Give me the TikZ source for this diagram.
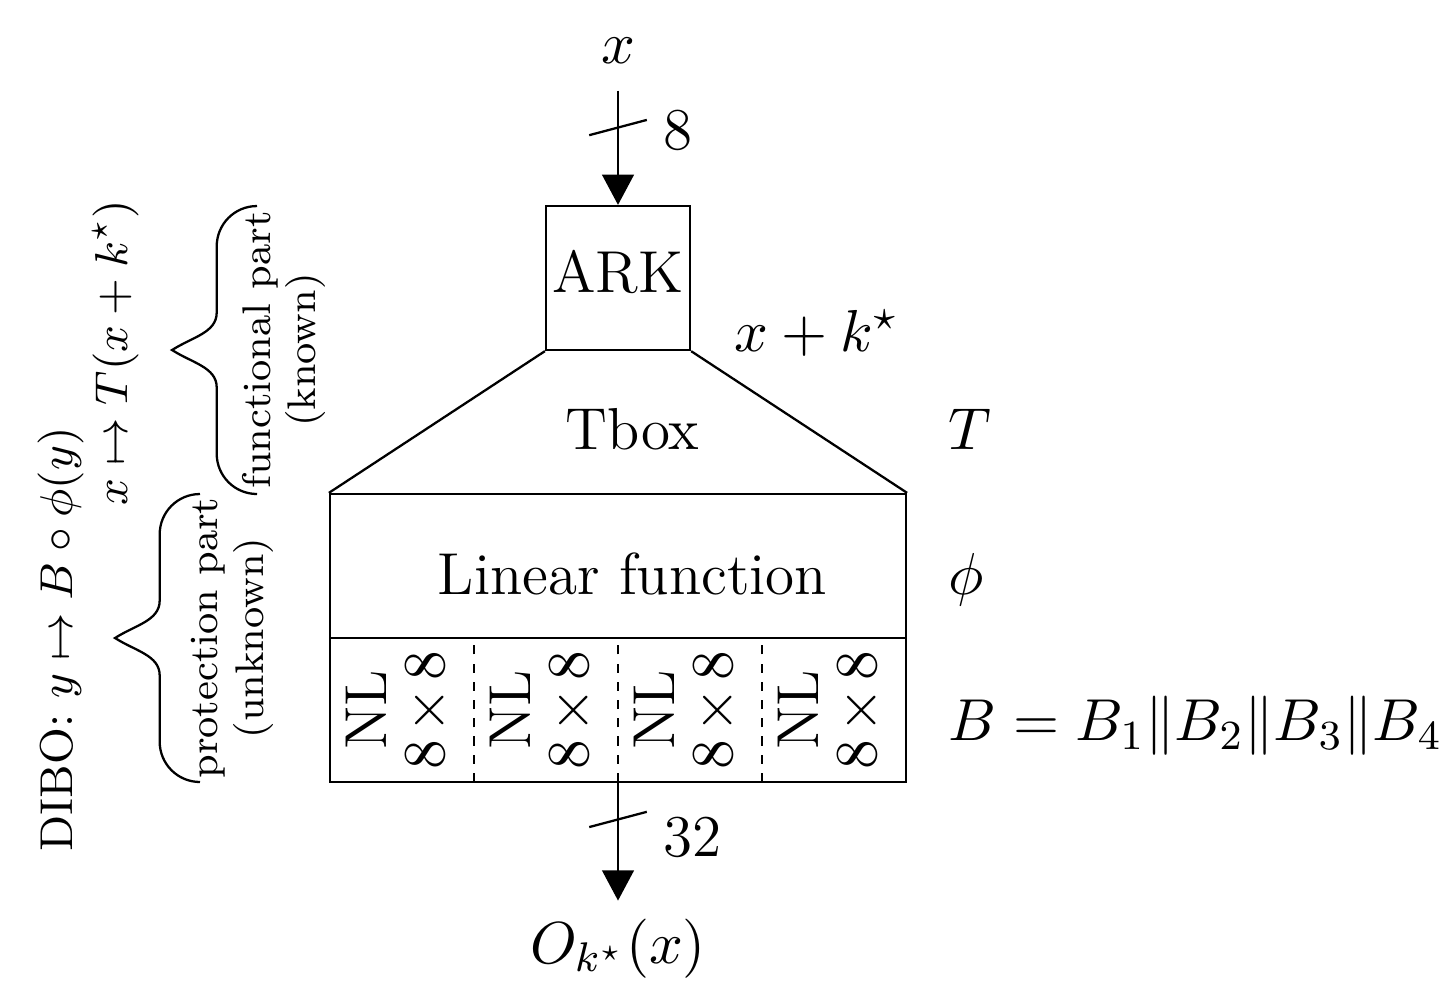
\RequirePackage{fix-cm}
\documentclass[tikz,border=0pt]{standalone}
\usetikzlibrary{arrows.meta}

% curly brace on the left of a block: #1 = x of the curled ends, #2 = lower y, #3 = upper y
\newcommand{\sidebrace}[3]{%
	\draw (#1,#3) .. controls ({#1-0.155},#3) and ({#1-0.28},{#3-0.125}) .. ({#1-0.28},{#3-0.28})
		-- ({#1-0.28},{(#2+#3)/2+0.26})
		.. controls ({#1-0.28},{(#2+#3)/2+0.12}) and ({#1-0.45},{(#2+#3)/2+0.09}) .. ({#1-0.59},{(#2+#3)/2})
		.. controls ({#1-0.45},{(#2+#3)/2-0.09}) and ({#1-0.28},{(#2+#3)/2-0.12}) .. ({#1-0.28},{(#2+#3)/2-0.26})
		-- ({#1-0.28},{#2+0.28})
		.. controls ({#1-0.28},{#2+0.125}) and ({#1-0.155},#2) .. (#1,#2);%
}

\begin{document}
\begin{tikzpicture}[
				> = {Triangle[length=0.21cm,width=0.22cm]}, % arrow head style
				line width = 0.45pt, % line style
				font=\fontsize{11.7}{14}\selectfont
				]

				\tikzstyle{blk}=[draw, inner sep=0pt, minimum height=1cm]
				\tikzstyle{nlcell}=[rotate=90, align=center, inner sep=0pt,
					font=\fontsize{11.7}{11.5}\selectfont]
				\tikzstyle{part}=[rotate=90, align=center, inner sep=0pt,
					font=\fontsize{7.9}{9.0}\selectfont]
				\tikzstyle{map}=[rotate=90, inner sep=0pt, font=\fontsize{9.1}{11}\selectfont]
				\tikzstyle{lab}=[anchor=base west, inner sep=0pt]
				\tikzstyle{divider}=[dash pattern=on 1.8pt off 1.8pt]

				\useasboundingbox (-2.292,-1.431) rectangle (7.771,5.431);

				% the blocks
				\node[blk, minimum width=1cm, text height=8pt, text depth=2.1pt] (ark) at (2,3.5) {ARK};
				\node[blk, minimum width=4cm, text height=11.4pt, text depth=0pt] (lin) at (2,1.5)
					{\hspace{0.2cm}Linear function};
				\node[blk, minimum width=4cm] (sbox) at (2,0.5) {};
				\draw (ark.south west) -- (lin.north west)
					(ark.south east) -- (lin.north east);
				\draw[divider] (1,0) -- (1,1) (2,0) -- (2,1) (3,0) -- (3,1);

				\node[anchor=base] (tbox) at (2.1,2.306) {Tbox};
				\node[nlcell] (nl1) at (0.47,0.5) {NL\\$8\mkern2mu{\times}\mkern2mu8$};
				\node[nlcell] (nl2) at (1.47,0.5) {NL\\$8\mkern2mu{\times}\mkern2mu8$};
				\node[nlcell] (nl3) at (2.47,0.5) {NL\\$8\mkern2mu{\times}\mkern2mu8$};
				\node[nlcell] (nl4) at (3.47,0.5) {NL\\$8\mkern2mu{\times}\mkern2mu8$};

				% input and output
				\node[anchor=base] (xin) at (2,4.99) {$x$};
				\node[anchor=base] (out) at (2,-1.257) {$O_{k^\star}(x)$};
				\draw[->, shorten <=1.8pt] (xin) -- (ark);
				\draw[->] (sbox) -- (out);
				\coordinate (cin) at (2,4.545);
				\coordinate (cout) at (2,-0.26);
				\draw ([shift={(-0.2,-0.053)}]cin) -- ([shift={(0.2,0.053)}]cin);
				\draw ([shift={(-0.2,-0.053)}]cout) -- ([shift={(0.2,0.053)}]cout);
				\node[lab] (w8) at (2.31,4.39) {8};
				\node[lab] (w32) at (2.31,-0.52) {32};

				% right labels
				\node[lab] (xk) at (2.80,2.99) {$x+k^\star$};
				\node[lab] (tl) at (4.29,2.306) {$T$};
				\node[lab] (phil) at (4.29,1.299) {$\phi$};
				\node[lab] (bl) at (4.29,0.29) {$B=B_1\|B_2\|B_3\|B_4$};

				% left side
				\sidebrace{-0.507}{2}{4}
				\sidebrace{-0.903}{0}{2}
				\node[part] (fpart) at (-0.32,3.0) {functional part\\(known)};
				\node[part] (ppart) at (-0.68,1.0) {protection part\\(unknown)};
				\node[map] (tmap) at (-1.49,2.98) {$x \mapsto T(x+k^\star)$};
				\node[map] (dibo) at (-1.87,0.99) {DIBO: $y \mapsto B \circ \phi(y)$};
			\end{tikzpicture}
\end{document}
